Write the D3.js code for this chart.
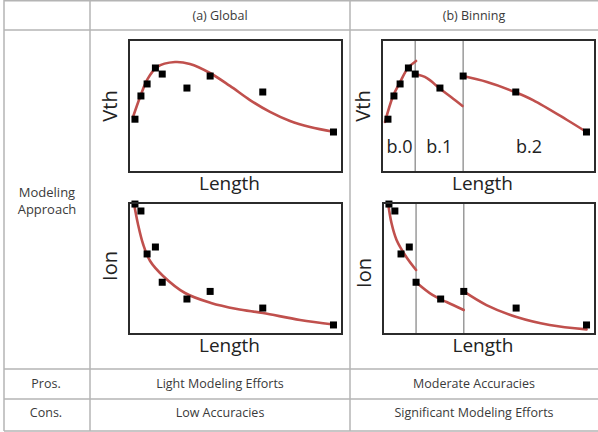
<!DOCTYPE html>
<html>
<head>
<meta charset="utf-8">
<script src="https://cdn.jsdelivr.net/npm/d3@7/dist/d3.min.js"></script>
<style>
  html, body { margin: 0; padding: 0; background: #fff; }
  svg { display: block; }
  text { font-family: "Open Sans", "Noto Sans", sans-serif; }
</style>
</head>
<body>
<svg id="chart" width="598" height="432"></svg>
<script>
// ---- measured samples (Length, arbitrary units 0..10) ----
const lengthPts = [0.28, 0.56, 0.85, 1.24, 1.56, 2.72, 3.81, 6.28, 9.60];
const vthPts    = [4.00, 5.76, 6.67, 7.88, 7.42, 6.36, 7.27, 6.06, 3.03];
const ionPts    = [9.92, 9.39, 6.11, 6.64, 3.95, 2.67, 3.25, 1.98, 0.69];

// ---- global model curves ----
const globalVthX = [0.19, 0.52, 0.85, 1.31, 2.16, 2.86, 3.80, 4.74, 5.68, 6.62, 7.56, 8.50, 9.60];
const globalVthY = [4.17, 5.68, 6.97, 7.95, 8.33, 8.18, 7.50, 6.52, 5.45, 4.55, 3.86, 3.41, 3.05];
const globalIonX = [0.23, 0.42, 0.66, 0.99, 1.60, 2.63, 3.85, 5.07, 6.29, 8.03, 9.60];
const globalIonY = [10.0, 8.40, 6.87, 5.57, 4.43, 3.13, 2.37, 1.91, 1.60, 1.07, 0.72];

// ---- binned model curves (bin edges at Length = 1.56 and 3.81) ----
const binEdges = [1.56, 3.81];
const binLabels = ["b.0", "b.1", "b.2"];
const binVthX = [
  [0.14, 0.52, 0.85, 1.22, 1.60],
  [1.56, 2.11, 2.68, 3.24, 3.78],
  [3.81, 4.93, 6.24, 7.09, 8.69, 9.60]
];
const binVthY = [
  [3.79, 5.76, 6.82, 7.88, 8.41],
  [7.42, 7.12, 6.36, 5.68, 5.00],
  [7.27, 6.82, 6.06, 5.45, 3.94, 3.03]
];
const binIonX = [
  [0.24, 0.40, 0.64, 1.10, 1.56],
  [1.56, 2.33, 3.00, 3.81],
  [3.81, 4.88, 6.30, 7.86, 9.60]
];
const binIonY = [
  [10.0, 8.47, 7.18, 5.88, 4.89],
  [3.95, 2.98, 2.44, 1.83],
  [3.25, 2.21, 1.30, 0.69, 0.35]
];

// ---- table text ----
const columnTitles = ["(a) Global", "(b) Binning"];
const rowTitle = ["Modeling", "Approach"];
const prosText = ["Pros.", "Light Modeling Efforts", "Moderate Accuracies"];
const consText = ["Cons.", "Low Accuracies", "Significant Modeling Efforts"];

const svg = d3.select("#chart");
svg.append("rect").attr("width", 598).attr("height", 432).attr("fill", "#fff");

// ---- table grid ----
const gridColor = "#b4b4b4";
const grid = svg.append("g").attr("stroke", gridColor).attr("stroke-width", 1.5);
[0.75, 30, 369, 399, 431].forEach(y =>
  grid.append("line").attr("x1", 4).attr("x2", 598).attr("y1", y).attr("y2", y));
[4, 90, 350].forEach(x =>
  grid.append("line").attr("x1", x).attr("x2", x).attr("y1", 0).attr("y2", 431));

const txtColor = "#3a3a3a";
const colCenters = [220, 474];
columnTitles.forEach((t, i) =>
  svg.append("text").attr("x", colCenters[i]).attr("y", 20)
    .attr("text-anchor", "middle").attr("font-size", 12.5).attr("fill", txtColor).text(t));

rowTitle.forEach((t, i) =>
  svg.append("text").attr("x", 47).attr("y", 197 + i * 17)
    .attr("text-anchor", "middle").attr("font-size", 13).attr("fill", txtColor).text(t));

[[prosText, 388], [consText, 417]].forEach(([row, y]) => {
  const xs = [46, 220, 474];
  row.forEach((t, i) =>
    svg.append("text").attr("x", xs[i]).attr("y", y)
      .attr("text-anchor", "middle").attr("font-size", 12.5).attr("fill", txtColor).text(t));
});

// ---- chart panels ----
const curveColor = "#c0504d";
const frameColor = "#2b2b2b";

function panel(opt) {
  const x = d3.scaleLinear().domain([0, 10]).range([opt.left, opt.right]);
  const y = d3.scaleLinear().domain([0, 10]).range([opt.bottom, opt.top]);
  const g = svg.append("g");

  // bin separators
  if (opt.bins) {
    binEdges.forEach(e =>
      g.append("line").attr("x1", x(e)).attr("x2", x(e))
        .attr("y1", opt.top).attr("y2", opt.bottom)
        .attr("stroke", "#9a9a9a").attr("stroke-width", 1.5));
  }

  const line = d3.line().x(d => x(d[0])).y(d => y(d[1])).curve(d3.curveCatmullRom.alpha(0.5));
  opt.curves.forEach(c => {
    const pts = c.xs.map((v, i) => [v, c.ys[i]]);
    g.append("path").attr("d", line(pts)).attr("fill", "none")
      .attr("stroke", curveColor).attr("stroke-width", 2.6).attr("stroke-linecap", "round");
  });

  // measured points
  const s = 7;
  g.selectAll("rect.pt").data(lengthPts.map((v, i) => [v, opt.values[i]]))
    .join("rect").attr("class", "pt")
    .attr("x", d => x(d[0]) - s / 2).attr("y", d => y(d[1]) - s / 2)
    .attr("width", s).attr("height", s).attr("fill", "#000");

  // frame
  g.append("rect").attr("x", opt.left).attr("y", opt.top)
    .attr("width", opt.right - opt.left).attr("height", opt.bottom - opt.top)
    .attr("fill", "none").attr("stroke", frameColor).attr("stroke-width", 2);

  // axis titles
  g.append("text").attr("x", (opt.left + opt.right) / 2 - 6).attr("y", opt.bottom + 18)
    .attr("text-anchor", "middle").attr("font-size", 19).attr("fill", "#222").text("Length");
  g.append("text")
    .attr("transform", `translate(${opt.left - 12},${opt.labelY}) rotate(-90)`)
    .attr("text-anchor", "middle").attr("font-size", 20).attr("fill", "#222").text(opt.yTitle);

  if (opt.bins && opt.showBinLabels) {
    const edges = [0, ...binEdges, 10];
    binLabels.forEach((b, i) =>
      g.append("text").attr("x", (x(edges[i]) + x(edges[i + 1])) / 2 + (i === 0 ? 1 : 0))
        .attr("y", opt.bottom - 19)
        .attr("text-anchor", "middle").attr("font-size", 18).attr("fill", "#222").text(b));
  }
}

panel({ left: 129, right: 342, top: 40, bottom: 172, labelY: 106, yTitle: "Vth",
  values: vthPts, curves: [{ xs: globalVthX, ys: globalVthY }] });
panel({ left: 129, right: 342, top: 203, bottom: 334, labelY: 266, yTitle: "Ion",
  values: ionPts, curves: [{ xs: globalIonX, ys: globalIonY }] });
panel({ left: 382, right: 595, top: 40, bottom: 172, labelY: 106, yTitle: "Vth",
  values: vthPts, bins: true, showBinLabels: true,
  curves: binVthX.map((xs, i) => ({ xs, ys: binVthY[i] })) });
panel({ left: 383, right: 595, top: 203, bottom: 334, labelY: 273, yTitle: "Ion",
  values: ionPts, bins: true,
  curves: binIonX.map((xs, i) => ({ xs, ys: binIonY[i] })) });
</script>
</body>
</html>
